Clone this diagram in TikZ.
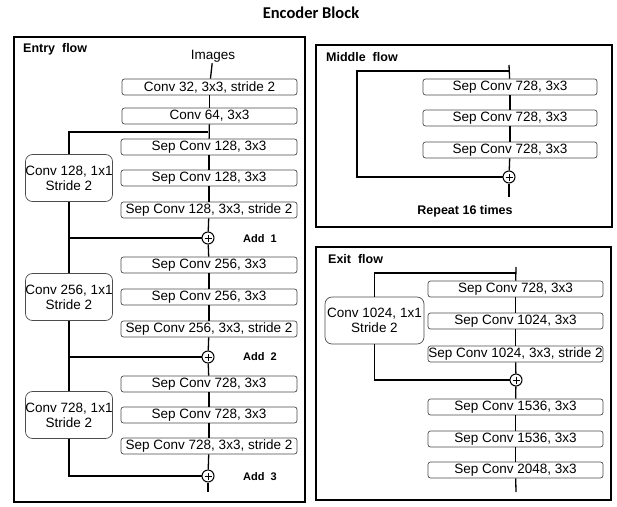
\documentclass[tikz,border=0pt]{standalone}
\usepackage{fontspec}
\setmainfont{Liberation Sans}
\newfontfamily\ttlfont{Carlito}
\usetikzlibrary{positioning,calc}
\tikzset{
  layer/.style={draw=black!70, line width=0.7pt, rounded corners=2.5pt, fill=white,
                minimum width=#1, minimum height=16pt, inner sep=0pt,
                font=\fontsize{13.5}{13.5}\selectfont},
  layer/.default=176pt,
  proj/.style={draw=black!70, line width=0.7pt, rounded corners=7pt, fill=white,
               minimum width=86pt, minimum height=47pt, inner sep=0pt, align=center,
               font=\fontsize{13.5}{15}\selectfont},
  addop/.style={circle, draw, line width=1pt, fill=white, minimum size=12pt, inner sep=0pt,
                path picture={\draw[line width=0.7pt]
                  ($(path picture bounding box.center)+(-3.5pt,0)$) -- ++(7pt,0)
                  ($(path picture bounding box.center)+(0,-3.5pt)$) -- ++(0,7pt);}},
  wire/.style={line width=1.3pt},
  frame/.style={draw, line width=1.4pt},
  flowlbl/.style={font=\bfseries\fontsize{12.5}{12.5}\selectfont, anchor=north west, inner sep=0pt},
  addlbl/.style={font=\bfseries\fontsize{11}{11}\selectfont, anchor=west, inner sep=0pt},
}

\begin{document}
\begin{tikzpicture}[x=1pt, y=-1pt]
\useasboundingbox (0,0) rectangle (617,506);
\node[font=\ttlfont\bfseries\fontsize{16.5}{16.5}\selectfont] (title) at (311,13) {Encoder Block};
% ---- frames
\draw[frame] (14,37) rectangle (305,502);
\draw[frame] (316,45) rectangle (612,227);
\draw[frame] (316,247) rectangle (611,500);
\node[flowlbl] (lentry) at (23,43) {Entry~~flow};
\node[flowlbl] (lmid) at (326,52) {Middle~~flow};
\node[flowlbl] (lexit) at (328,254) {Exit~~flow};
% ---- entry flow
\node[font=\fontsize{13.5}{13.5}\selectfont, inner sep=1pt] (img) at (213,56) {Images};
\node[layer=175pt] (c32) at (209.5,87) {Conv 32, 3x3, stride 2};
\node[layer=175pt] (c64) at (209.5,116) {Conv 64, 3x3};
\node[layer] (s128a) at (209,147) {Sep Conv 128, 3x3};
\node[layer] (s128b) at (209,178) {Sep Conv 128, 3x3};
\node[layer] (s128c) at (209,210) {Sep Conv 128, 3x3, stride 2};
\node[addop] (a1) at (208,238) {};
\node[layer] (s256a) at (209,265) {Sep Conv 256, 3x3};
\node[layer] (s256b) at (209,297) {Sep Conv 256, 3x3};
\node[layer] (s256c) at (209,329) {Sep Conv 256, 3x3, stride 2};
\node[addop] (a2) at (208,357) {};
\node[layer] (s728a) at (209,384) {Sep Conv 728, 3x3};
\node[layer] (s728b) at (209,415) {Sep Conv 728, 3x3};
\node[layer] (s728c) at (209,446) {Sep Conv 728, 3x3, stride 2};
\node[addop] (a3) at (208,476) {};
\node[proj] (p128) at (69,178) {Conv 128, 1x1\\Stride 2};
\node[proj] (p256) at (69,297) {Conv 256, 1x1\\Stride 2};
\node[proj] (p728) at (69,415) {Conv 728, 1x1\\Stride 2};
\node[addlbl] (la1) at (243,239) {Add~~1};
\node[addlbl] (la2) at (243,357) {Add~~2};
\node[addlbl] (la3) at (243,477) {Add~~3};
\coordinate (e0) at (208,132);
\coordinate (eend) at (208,492);
\foreach \i/\j in {img/c32, c32/c64, c64/s128a, s128a/s128b, s128b/s128c, s128c/a1,
                   a1/s256a, s256a/s256b, s256b/s256c, s256c/a2,
                   a2/s728a, s728a/s728b, s728b/s728c, s728c/a3, a3/eend}
  \draw[wire] (\i) -- (\j);
\draw[wire] (e0) -| (p128);
\draw[wire] (p128) |- (a1);
\draw[wire] (p128) -- (p256);
\draw[wire] (p256) |- (a2);
\draw[wire] (p256) -- (p728);
\draw[wire] (p728) |- (a3);
% ---- middle flow
\node[layer=174pt] (m1) at (510,87) {Sep Conv 728, 3x3};
\node[layer=174pt] (m2) at (510,118) {Sep Conv 728, 3x3};
\node[layer=174pt] (m3) at (510,150) {Sep Conv 728, 3x3};
\node[addop] (madd) at (509,177) {};
\node[font=\bfseries\fontsize{12.5}{12.5}\selectfont] (rep) at (465,211) {Repeat 16 times};
\coordinate (mtop) at (509,65);
\coordinate (mfork) at (509,71);
\coordinate (mleft) at (357,177);
\coordinate (mend) at (509,197);
\foreach \i/\j in {mtop/m1, m1/m2, m2/m3, m3/madd, madd/mend}
  \draw[wire] (\i) -- (\j);
\draw[wire] (mfork) -| (mleft) -- (madd);
% ---- exit flow
\node[layer=175pt] (x1) at (515.5,289) {Sep Conv 728, 3x3};
\node[layer=175pt] (x2) at (515.5,321) {Sep Conv 1024, 3x3};
\node[layer=175pt] (x3) at (515.5,354) {Sep Conv 1024, 3x3, stride 2};
\node[addop] (xadd) at (516,380) {};
\node[layer=175pt] (x4) at (515.5,407) {Sep Conv 1536, 3x3};
\node[layer=175pt] (x5) at (515.5,439) {Sep Conv 1536, 3x3};
\node[layer=175pt] (x6) at (515.5,470) {Sep Conv 2048, 3x3};
\node[proj, minimum width=99pt] (p1024) at (374.5,320.5) {Conv 1024, 1x1\\Stride 2};
\coordinate (xtop) at (516,267);
\coordinate (xfork) at (516,273);
\coordinate (xend) at (516,492);
\foreach \i/\j in {xtop/x1, x1/x2, x2/x3, x3/xadd, xadd/x4, x4/x5, x5/x6, x6/xend}
  \draw[wire] (\i) -- (\j);
\draw[wire] (xfork) -| (p1024);
\draw[wire] (p1024) |- (xadd);
\end{tikzpicture}
\end{document}
